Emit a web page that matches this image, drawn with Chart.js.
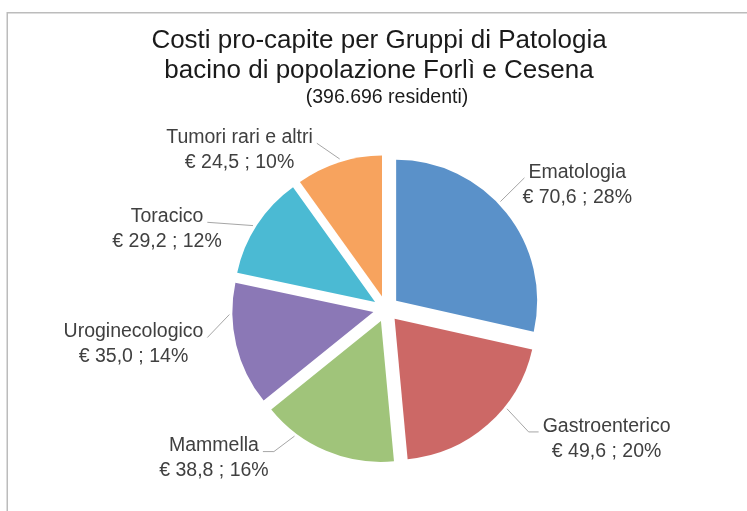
<!DOCTYPE html>
<html>
<head>
<meta charset="utf-8">
<script src="https://cdn.jsdelivr.net/npm/chart.js@4/dist/chart.umd.min.js"></script>
<style>
  html, body { margin: 0; padding: 0; background: #fff; }
  #wrap { position: relative; width: 747px; height: 511px; }
</style>
</head>
<body>
<div id="wrap"><canvas id="myChart" width="747" height="511"></canvas></div>
<script>
const categories = [
  "Ematologia",
  "Gastroenterico",
  "Mammella",
  "Uroginecologico",
  "Toracico",
  "Tumori rari e altri",
];
const costs = [70.6, 49.6, 38.8, 35.0, 29.2, 24.5];
const costLabels = ["70,6", "49,6", "38,8", "35,0", "29,2", "24,5"];
const shareLabels = ["28%", "20%", "16%", "14%", "12%", "10%"];
const sliceColors = ["#5A91C9", "#CC6866", "#A0C47A", "#8B78B6", "#4BBAD3", "#F7A35E"];

// label placement around the pie (degrees clockwise from top, px from centre)
const labelAngle = [57, 120.5, 229, 262, 290, 317.3];
const labelDist = [228, 256, 228, 255, 233, 216];
// where each leader line leaves its slice (degrees clockwise from top)
const leaderAngle = [46.4, 128.7, 216.9, 269, 302, 342.9];
const leaderTail = [0, 10, 11, 0, 0, 0];

const explode = 13;
const labelFont = "19.5px 'Liberation Sans', Arial, sans-serif";

const explodedPie = {
  id: "explodedPie",
  beforeDatasetDraw(chart, args) {
    const ctx = chart.ctx;
    args.meta.data.forEach((arc) => {
      const mid = (arc.startAngle + arc.endAngle) / 2;
      ctx.save();
      ctx.translate(Math.cos(mid) * explode, Math.sin(mid) * explode);
      arc.draw(ctx);
      ctx.restore();
    });
    return false;
  },
};

const frameAndTitle = {
  id: "frameAndTitle",
  beforeDraw(chart) {
    const ctx = chart.ctx;
    ctx.save();
    ctx.fillStyle = "#fff";
    ctx.fillRect(0, 0, chart.width, chart.height);
    ctx.strokeStyle = "#bcbcbc";
    ctx.lineWidth = 1.5;
    ctx.strokeRect(7.25, 12.75, 900, 700);
    ctx.fillStyle = "#1a1a1a";
    ctx.textAlign = "center";
    ctx.textBaseline = "alphabetic";
    ctx.font = "26px 'Liberation Sans', Arial, sans-serif";
    ctx.fillText("Costi pro-capite per Gruppi di Patologia", 379, 47.5);
    ctx.fillText("bacino di popolazione Forlì e Cesena", 379, 77.5);
    ctx.font = labelFont;
    ctx.fillText("(396.696 residenti)", 387, 103);
    ctx.restore();
  },
};

const sliceLabels = {
  id: "sliceLabels",
  afterDatasetsDraw(chart) {
    const ctx = chart.ctx;
    const meta = chart.getDatasetMeta(0);
    ctx.save();
    ctx.font = labelFont;
    ctx.textAlign = "center";
    ctx.textBaseline = "middle";
    meta.data.forEach((arc, i) => {
      const a = (labelAngle[i] * Math.PI) / 180;
      const cx = arc.x + Math.sin(a) * labelDist[i];
      const cy = arc.y - Math.cos(a) * labelDist[i];
      const line1 = categories[i];
      const line2 = "€ " + costLabels[i] + " ; " + shareLabels[i];
      ctx.fillStyle = "#404040";
      ctx.fillText(line1, cx, cy - 12.5);
      ctx.fillText(line2, cx, cy + 12.5);

      // leader line
      const mid = (arc.startAngle + arc.endAngle) / 2;
      const ox = arc.x + Math.cos(mid) * explode;
      const oy = arc.y + Math.sin(mid) * explode;
      const w1 = ctx.measureText(line1).width;
      const onRight = cx > ox;
      const attachX = onRight ? cx - w1 / 2 - 4 : cx + w1 / 2 + 4;
      const attachY = cy - 7;
      const elbowX = onRight ? attachX - leaderTail[i] : attachX + leaderTail[i];
      const la = (leaderAngle[i] * Math.PI) / 180;
      const r = arc.outerRadius + 3;
      ctx.strokeStyle = "#a6a6a6";
      ctx.lineWidth = 1;
      ctx.beginPath();
      ctx.moveTo(ox + Math.sin(la) * r, oy - Math.cos(la) * r);
      ctx.lineTo(elbowX, attachY);
      ctx.lineTo(attachX, attachY);
      ctx.stroke();
    });
    ctx.restore();
  },
};

const ctx = document.getElementById("myChart").getContext("2d");

new Chart(ctx, {
  type: "pie",
  data: {
    labels: categories,
    datasets: [
      {
        data: costs,
        backgroundColor: sliceColors,
        borderWidth: 0,
        hoverOffset: 0,
      },
    ],
  },
  options: {
    responsive: false,
    animation: false,
    radius: 141,
    layout: {
      padding: { left: 25, right: 0, top: 107, bottom: 0 },
    },
    plugins: {
      legend: { display: false },
      title: { display: false },
      tooltip: { enabled: false },
    },
    events: [],
  },
  plugins: [frameAndTitle, explodedPie, sliceLabels],
});
</script>
</body>
</html>
